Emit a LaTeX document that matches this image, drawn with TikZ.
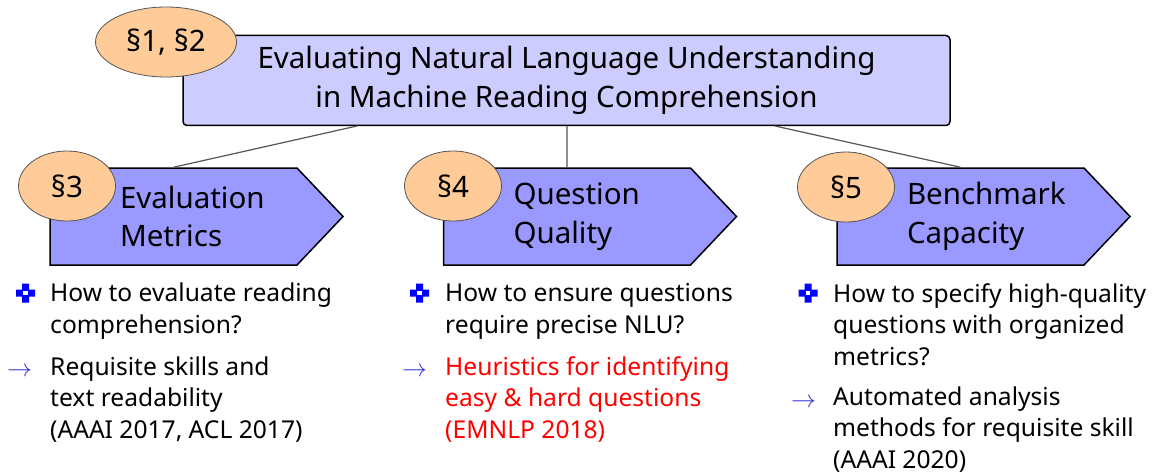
\documentclass[tikz,border=0pt]{standalone}
\usepackage{fontspec}
\setmainfont{Noto Sans}
\usetikzlibrary{shapes.geometric,shapes.symbols}

\definecolor{headfill}{HTML}{CCCCFF}
\definecolor{secfill}{HTML}{9999FF}
\definecolor{tagfill}{HTML}{FFCC99}
\definecolor{linkgray}{HTML}{555555}
\definecolor{markblue}{HTML}{0000FF}
\definecolor{arrowblue}{HTML}{3333DD}

\newcommand{\bigfont}{\fontsize{29.5}{38.5}\selectfont}
\newcommand{\itemfont}{\fontsize{24.6}{31.5}\selectfont}

\tikzset{
  headbox/.style={draw, line width=1.5pt, rounded corners=4pt, fill=headfill,
    minimum width=767, minimum height=90, align=center, font=\bigfont},
  secbox/.style={draw, line width=1.5pt, fill=secfill, signal, signal to=east,
    signal pointer angle=93, minimum width=293, minimum height=97,
    align=left, text width=107, font=\bigfont},
  sectag/.style={draw=linkgray, line width=0.8pt, fill=tagfill, ellipse,
    minimum width=97, minimum height=70, inner sep=0pt, font=\bigfont},
  itemtext/.style={anchor=base west, inner sep=0pt, align=left, font=\itemfont},
  arrowmark/.style={anchor=base west, inner sep=0pt, text=arrowblue, font=\itemfont},
  link/.style={draw=linkgray, line width=1.2pt},
  qmark/.pic={
    \fill[markblue] (-9.5,-3.5) rectangle (9.5,3.5)
                    (-3.5,-9.5) rectangle (3.5,9.5);
    \fill[white] (-2.3,-2.3) rectangle (2.3,2.3);
  }
}

\begin{document}
\begin{tikzpicture}[x=1pt, y=-1pt]
  \useasboundingbox (0,0) rectangle (1156,476);

  % title and its three sections
  \node[headbox] (head) at (566.5,80.5) {Evaluating Natural Language Understanding\\in Machine Reading Comprehension};
  \node[secbox] (eval) at (173.5,216.5) {Evaluation\\Metrics};
  \node[secbox] (qual) at (567,216.5) {Question\\Quality};
  \node[secbox] (bench) at (960.5,216.5) {Benchmark\\Capacity};

  \coordinate (h1) at (357,126);
  \coordinate (h2) at (567,126);
  \coordinate (h3) at (775,126);
  \draw[link] (h1) -- (eval.north)
              (h2) -- (qual.north)
              (h3) -- (bench.north);

  \node[sectag, minimum width=141] (tag12) at (166,42) {\S1, \S2};
  \node[sectag] (tag3) at (67,186) {\S3};
  \node[sectag] (tag4) at (453,186) {\S4};
  \node[sectag] (tag5) at (846,187) {\S5};

  % questions and answers
  \pic at (25.5,293) {qmark};
  \pic at (419.5,293) {qmark};
  \pic at (808,293) {qmark};

  \node[itemtext] (q1) at (50,333) {How to evaluate reading\\comprehension?};
  \node[itemtext] (q2) at (445,333) {How to ensure questions\\require precise NLU?};
  \node[itemtext] (q3) at (833,365) {How to specify high-quality\\questions with organized\\metrics?};

  \node[arrowmark] (r1) at (7,376) {$\rightarrow$};
  \node[arrowmark] (r2) at (402,376) {$\rightarrow$};
  \node[arrowmark] (r3) at (791,407) {$\rightarrow$};

  \node[itemtext] (a1) at (50,438) {Requisite skills and\\text readability\\(AAAI 2017, ACL 2017)};
  \node[itemtext, text=red] (a2) at (445,438) {Heuristics for identifying\\easy \& hard questions\\(EMNLP 2018)};
  \node[itemtext] (a3) at (833,468) {Automated analysis\\methods for requisite skill\\(AAAI 2020)};
\end{tikzpicture}
\end{document}
